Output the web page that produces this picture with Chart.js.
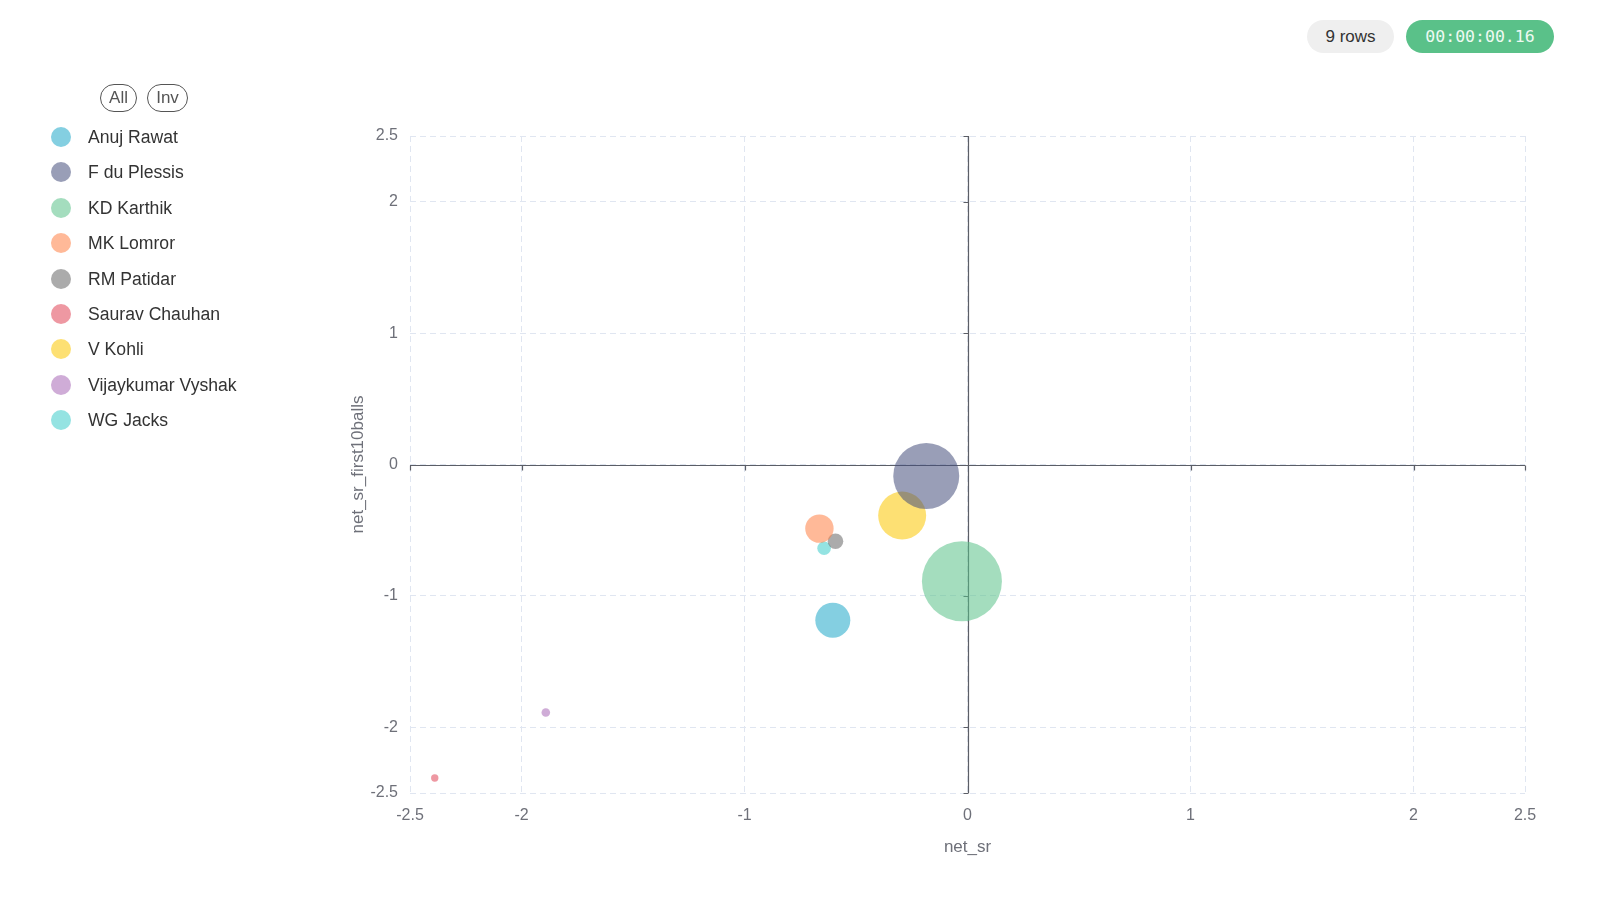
<!DOCTYPE html>
<html>
<head>
<meta charset="utf-8">
<script src="https://cdn.jsdelivr.net/npm/chart.js@4.4.1/dist/chart.umd.min.js"></script>
<style>
  html, body { margin: 0; padding: 0; background: #fff; }
  body { width: 1600px; height: 905px; position: relative; overflow: hidden;
         font-family: "Liberation Sans", Arial, Helvetica, sans-serif; }
  #wrap { position: absolute; left: 0; top: 0; width: 1600px; height: 905px; }
  .pill { position: absolute; top: 20px; height: 33px; line-height: 33px; border-radius: 17px;
          text-align: center; font-size: 17px; box-sizing: border-box; }
  #rows { left: 1307px; width: 87px; background: #efefef; color: #333; }
  #timer { left: 1406px; width: 148px; background: #5ac189; color: #eefaf2;
           font-family: "DejaVu Sans Mono", "Liberation Mono", monospace; font-size: 16.5px; }
  .btn { position: absolute; top: 84px; height: 28px; line-height: 26px; border: 1px solid #555;
         border-radius: 14px; box-sizing: border-box; text-align: center; font-size: 17px; color: #555; }
  #all { left: 100px; width: 37px; }
  #inv { left: 147px; width: 41px; }
  #legend { position: absolute; left: 51px; top: 127px; }
  .item { height: 35.4px; position: relative; }
  .dot { position: absolute; left: 0; top: 0; width: 20px; height: 20px; border-radius: 50%; }
  .lbl { position: absolute; left: 37px; top: 0; line-height: 20px; font-size: 17.6px; color: #333; white-space: nowrap; }
</style>
</head>
<body>
<div id="wrap"><canvas id="c" width="1600" height="905"></canvas></div>
<div class="pill" id="rows">9 rows</div>
<div class="pill" id="timer">00:00:00.16</div>
<div class="btn" id="all">All</div>
<div class="btn" id="inv">Inv</div>
<div id="legend"></div>
<script>
// ---- data ----
const players = ["Anuj Rawat", "F du Plessis", "KD Karthik", "MK Lomror", "RM Patidar",
                 "Saurav Chauhan", "V Kohli", "Vijaykumar Vyshak", "WG Jacks"];
const netSr = [-0.604, -0.185, -0.025, -0.664, -0.592, -2.389, -0.293, -1.891, -0.643];
const netSrFirst10 = [-1.185, -0.087, -0.888, -0.488, -0.584, -2.386, -0.389, -1.887, -0.637];
const bubbleSize = [17.5, 33, 40, 14.2, 7.8, 3.7, 24, 4.3, 6.8];
const palette = ["#1FA8C9", "#454E7C", "#5AC189", "#FF7F44", "#666666",
                 "#E04355", "#FCC700", "#A868B7", "#3CCCCB"];
const xTicks = [-2.5, -2, -1, 0, 1, 2, 2.5];
const yTicks = [-2.5, -2, -1, 0, 1, 2, 2.5];
const xTitle = "net_sr";
const yTitle = "net_sr_first10balls";

function fade(hex, a) {
  const n = parseInt(hex.slice(1), 16);
  return `rgba(${(n >> 16) & 255},${(n >> 8) & 255},${n & 255},${a})`;
}
const OPACITY = 0.55;

// ---- legend ----
const legend = document.getElementById('legend');
players.forEach((p, i) => {
  const d = document.createElement('div');
  d.className = 'item';
  d.innerHTML = `<span class="dot" style="background:${fade(palette[i], OPACITY)}"></span><span class="lbl">${p}</span>`;
  legend.appendChild(d);
});

// ---- zero axis lines plugin ----
const axisColor = '#6E7079';
const zeroAxes = {
  id: 'zeroAxes',
  beforeDatasetsDraw(chart) {
    const {ctx, chartArea: a, scales: {x, y}} = chart;
    const x0 = Math.round(x.getPixelForValue(0)) + 0.5;
    const y0 = Math.round(y.getPixelForValue(0)) + 0.5;
    ctx.save();
    ctx.strokeStyle = '#5c5e66';
    ctx.lineWidth = 1.2;
    ctx.beginPath();
    ctx.moveTo(a.left, y0); ctx.lineTo(a.right, y0);
    ctx.moveTo(x0, a.top); ctx.lineTo(x0, a.bottom);
    xTicks.forEach(v => {
      const px = Math.round(x.getPixelForValue(v)) + 0.5;
      ctx.moveTo(px, y0); ctx.lineTo(px, y0 + 5);
    });
    yTicks.forEach(v => {
      const py = Math.round(y.getPixelForValue(v)) + 0.5;
      ctx.moveTo(x0, py); ctx.lineTo(x0 - 5, py);
    });
    ctx.stroke();
    ctx.restore();
  }
};

const FONT = "'Liberation Sans', Arial, Helvetica, sans-serif";
const gridColor = '#E0E6F1';

new Chart(document.getElementById('c'), {
  type: 'bubble',
  data: {
    datasets: players.map((p, i) => ({
      label: p,
      data: [{x: netSr[i], y: netSrFirst10[i], r: bubbleSize[i]}],
      backgroundColor: fade(palette[i], OPACITY),
      borderWidth: 0,
      hoverBorderWidth: 0
    }))
  },
  options: {
    responsive: false,
    animation: false,
    events: [],
    layout: { padding: { left: 340, right: 75, top: 136, bottom: 40 } },
    plugins: { legend: { display: false }, tooltip: { enabled: false } },
    scales: {
      x: {
        type: 'linear', min: -2.5, max: 2.5,
        afterBuildTicks: s => { s.ticks = xTicks.map(v => ({value: v})); },
        afterFit: s => { s.height = 72; },
        ticks: { callback: v => String(v), color: axisColor, padding: 13,
                 font: { family: FONT, size: 16 }, maxRotation: 0, autoSkip: false },
        grid: { color: gridColor, lineWidth: 1, drawTicks: false },
        border: { display: false, dash: [6, 4] },
        title: { display: true, text: xTitle, color: axisColor,
                 font: { family: FONT, size: 17 }, padding: { top: 0, bottom: 7 } }
      },
      y: {
        type: 'linear', min: -2.5, max: 2.5,
        afterBuildTicks: s => { s.ticks = yTicks.map(v => ({value: v})); },
        afterFit: s => { s.width = 70; },
        ticks: { callback: v => String(v), color: axisColor, padding: 12,
                 font: { family: FONT, size: 16 }, autoSkip: false },
        grid: { color: gridColor, lineWidth: 1, drawTicks: false },
        border: { display: false, dash: [6, 4] },
        title: { display: true, text: yTitle, color: axisColor,
                 font: { family: FONT, size: 17 }, padding: { top: 8, bottom: 0 } }
      }
    }
  },
  plugins: [zeroAxes]
});
</script>
</body>
</html>
